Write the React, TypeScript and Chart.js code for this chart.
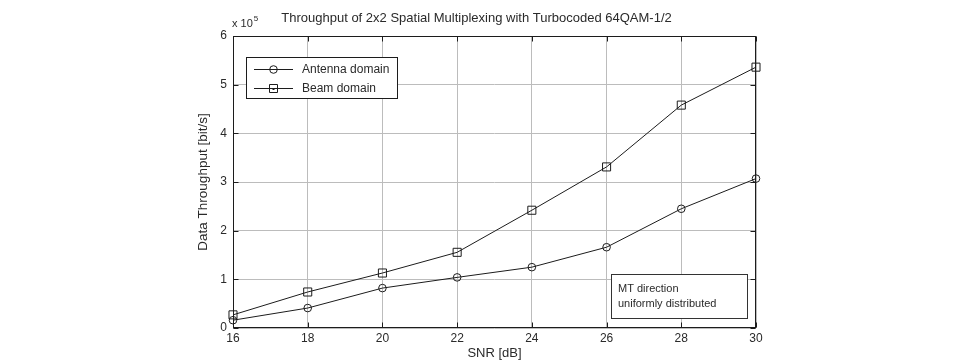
import { useEffect, useRef } from "react";
import { Chart, registerables } from "chart.js";

Chart.register(...registerables);

// SNR sweep points [dB]
const snrDb = [16, 18, 20, 22, 24, 26, 28, 30];
// Throughput in units of 10^5 bit/s
const antennaDomain = [0.16, 0.41, 0.82, 1.04, 1.25, 1.66, 2.45, 3.07];
const beamDomain = [0.27, 0.74, 1.13, 1.555, 2.42, 3.31, 4.58, 5.36];

const seriesLabels = ["Antenna domain", "Beam domain"];
const chartTitle = "Throughput of 2x2 Spatial Multiplexing with Turbocoded 64QAM-1/2";
const xAxisTitle = "SNR [dB]";
const yAxisTitle = "Data Throughput [bit/s]";
const yExponentBase = "x 10";
const yExponent = "5";
const noteLines = ["MT direction", "uniformly distributed"];

const xMin = 16;
const xMax = 30;
const xStep = 2;
const yMin = 0;
const yMax = 6;
const yStep = 1;

const FONT = '"Liberation Sans", Arial, Helvetica, sans-serif';
const INK = "#1c1c1c";
const TEXT = "#2a2a2a";
const GRID = "#bcbcbc";

const W = 965;
const H = 362;

function drawMarker(ctx: CanvasRenderingContext2D, style: string, x: number, y: number) {
  ctx.beginPath();
  if (style === "circle") {
    ctx.arc(x, y, 3.8, 0, Math.PI * 2);
    ctx.stroke();
  } else {
    ctx.rect(x - 4, y - 4, 8, 8);
    ctx.stroke();
    ctx.fillStyle = INK;
    ctx.fillRect(x - 1, y - 0.5, 2, 2);
  }
}

const decorPlugin = {
  id: "matlabDecor",
  afterDraw(chart: any) {
    const ctx: CanvasRenderingContext2D = chart.ctx;
    const area = chart.chartArea;
    const xs = chart.scales.x;
    const ys = chart.scales.y;
    ctx.save();

    // axes box
    ctx.strokeStyle = INK;
    ctx.lineWidth = 1;
    const L = Math.round(area.left) + 0.5;
    const R = Math.round(area.right) - 0.5;
    const T = Math.round(area.top) + 0.5;
    const B = Math.round(area.bottom) - 0.5;
    ctx.strokeRect(L, T, R - L, B - T);

    // inward tick marks on all four sides
    const tl = 5;
    ctx.beginPath();
    for (let v = xMin; v <= xMax; v += xStep) {
      const px = Math.round(xs.getPixelForValue(v)) + 0.5;
      ctx.moveTo(px, B);
      ctx.lineTo(px, B - tl);
      ctx.moveTo(px, T);
      ctx.lineTo(px, T + tl);
    }
    for (let v = yMin; v <= yMax; v += yStep) {
      const py = Math.round(ys.getPixelForValue(v)) + 0.5;
      ctx.moveTo(L, py);
      ctx.lineTo(L + tl, py);
      ctx.moveTo(R, py);
      ctx.lineTo(R - tl, py);
    }
    ctx.stroke();

    // title
    ctx.fillStyle = TEXT;
    ctx.textAlign = "center";
    ctx.textBaseline = "middle";
    ctx.font = `13px ${FONT}`;
    ctx.fillText(chartTitle, 476.5, 18);

    // axis titles
    ctx.fillText(xAxisTitle, (area.left + area.right) / 2, 353);
    ctx.save();
    ctx.translate(203, (area.top + area.bottom) / 2);
    ctx.rotate(-Math.PI / 2);
    ctx.font = `13.5px ${FONT}`;
    ctx.fillText(yAxisTitle, 0, 0);
    ctx.restore();

    // exponent label
    ctx.textAlign = "left";
    ctx.textBaseline = "alphabetic";
    ctx.font = `11px ${FONT}`;
    ctx.fillText(yExponentBase, 232, 27);
    const bw = ctx.measureText(yExponentBase).width;
    ctx.font = `8px ${FONT}`;
    ctx.fillText(yExponent, 232 + bw + 1, 21);

    // legend box
    const lg = { x: 246, y: 57, w: 151, h: 41 };
    ctx.fillStyle = "#ffffff";
    ctx.fillRect(lg.x, lg.y, lg.w, lg.h);
    ctx.strokeStyle = INK;
    ctx.strokeRect(lg.x + 0.5, lg.y + 0.5, lg.w, lg.h);
    const rows = [69.5, 88.5];
    chart.data.datasets.forEach((ds: any, i: number) => {
      const y = rows[i];
      ctx.strokeStyle = INK;
      ctx.lineWidth = 1;
      ctx.beginPath();
      ctx.moveTo(254, y);
      ctx.lineTo(293, y);
      ctx.stroke();
      drawMarker(ctx, ds.pointStyle, 273.5, y);
      ctx.fillStyle = TEXT;
      ctx.font = `12px ${FONT}`;
      ctx.textAlign = "left";
      ctx.textBaseline = "middle";
      ctx.fillText(ds.label, 302, y);
    });

    // note box
    const nb = { x: 611, y: 274, w: 136, h: 44 };
    ctx.fillStyle = "#ffffff";
    ctx.fillRect(nb.x, nb.y, nb.w, nb.h);
    ctx.strokeStyle = "#333333";
    ctx.strokeRect(nb.x + 0.5, nb.y + 0.5, nb.w, nb.h);
    ctx.fillStyle = TEXT;
    ctx.font = `11px ${FONT}`;
    ctx.textBaseline = "middle";
    ctx.fillText(noteLines[0], 618, 289);
    ctx.fillText(noteLines[1], 618, 304);

    ctx.restore();
  },
};

export default function App() {
  const canvasRef = useRef<HTMLCanvasElement | null>(null);

  useEffect(() => {
    const canvas = canvasRef.current;
    if (!canvas) return;

    const makeSeries = (label: string, values: number[], style: string) => ({
      label,
      data: snrDb.map((x, i) => ({ x, y: values[i] })),
      borderColor: INK,
      borderWidth: 1,
      tension: 0,
      pointStyle: style,
      pointRadius: style === "circle" ? 3.8 : 5.7,
      pointBorderWidth: 1,
      pointBorderColor: INK,
      pointBackgroundColor: "rgba(0,0,0,0)",
      pointHoverRadius: 0,
      clip: false as const,
    });

    const chart = new Chart(canvas, {
      type: "line",
      data: {
        datasets: [
          makeSeries(seriesLabels[0], antennaDomain, "circle"),
          makeSeries(seriesLabels[1], beamDomain, "rect"),
        ],
      },
      options: {
        responsive: false,
        animation: false,
        devicePixelRatio: 1,
        events: [],
        layout: { padding: { left: 0, right: W - 756, top: 36, bottom: 0 } },
        plugins: {
          legend: { display: false },
          title: { display: false },
          tooltip: { enabled: false },
        },
        scales: {
          x: {
            type: "linear",
            min: xMin,
            max: xMax,
            afterFit: (scale: any) => {
              scale.height = H - 328;
            },
            ticks: {
              stepSize: xStep,
              color: TEXT,
              padding: 3,
              font: { family: FONT, size: 12 },
              maxRotation: 0,
            },
            grid: { color: GRID, lineWidth: 1, drawTicks: false },
            border: { display: false },
          },
          y: {
            type: "linear",
            min: yMin,
            max: yMax,
            afterFit: (scale: any) => {
              scale.width = 233;
            },
            ticks: {
              stepSize: yStep,
              color: TEXT,
              padding: 6,
              font: { family: FONT, size: 12 },
            },
            grid: { color: GRID, lineWidth: 1, drawTicks: false },
            border: { display: false },
          },
        },
      },
      plugins: [decorPlugin],
    });

    return () => chart.destroy();
  }, []);

  return (
    <div style={{ position: "absolute", left: 0, top: 0, width: W, height: H, background: "#ffffff" }}>
      <canvas ref={canvasRef} width={W} height={H} style={{ display: "block", width: W, height: H }} />
    </div>
  );
}
